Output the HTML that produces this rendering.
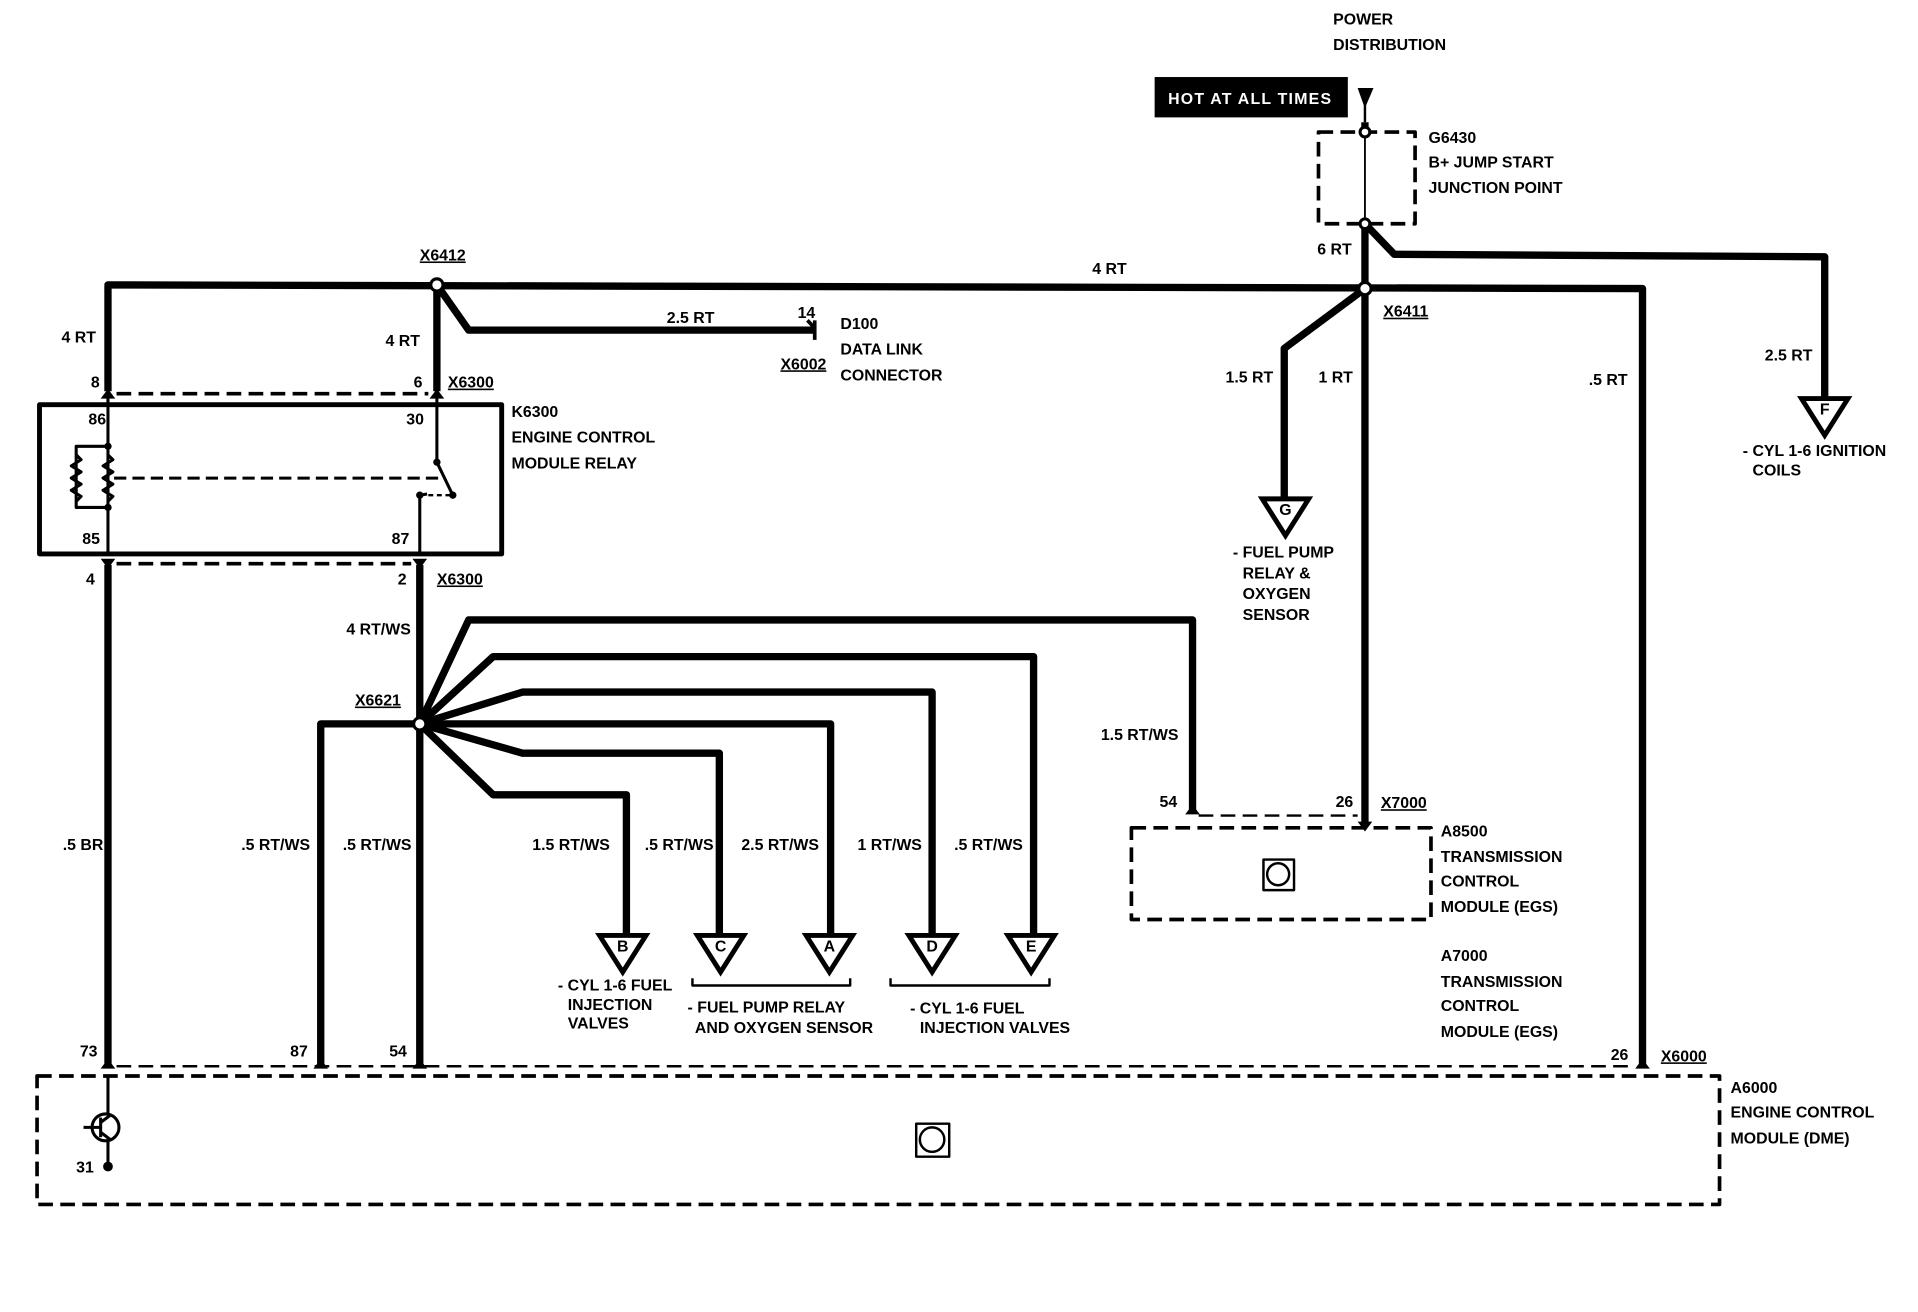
<!DOCTYPE html>
<html><head><meta charset="utf-8"><style>
html,body{margin:0;padding:0;background:#fff;}
svg{display:block;}
text{font-family:"Liberation Sans",sans-serif;font-size:13px;font-weight:bold;fill:#000;}
</style></head><body>
<svg width="1918" height="1312" viewBox="0 0 1568 1073" xmlns="http://www.w3.org/2000/svg">
<g fill="none" stroke="#000" stroke-linejoin="round">
<!-- thick wires -->
<g stroke-width="6">
<polyline points="88,320 88,233 1343,236 1343,872"/>
<polyline points="357,233 357,320"/>
<polyline points="357,233 383,270 666,270"/>
<polyline points="88,462 88,870"/>
<polyline points="343,462 343,870"/>
<polyline points="1116,100 1116,108"/>
<polyline points="1116,183 1116,676"/>
<polyline points="1116,183 1140,208 1492,210 1492,326"/>
<polyline points="1116,236 1050,285 1050,408"/>
<polyline points="343,592 383,507 975,507 975,662"/>
<polyline points="343,592 403,537 845,537 845,765"/>
<polyline points="343,592 427,566 762,566 762,765"/>
<polyline points="343,592 679,592 679,765"/>
<polyline points="343,592 427,616 588,616 588,765"/>
<polyline points="343,592 403,650 512,650 512,765"/>
<polyline points="343,592 262,592 262,870"/>
</g>
<!-- relay box -->
<rect x="32" y="331" width="378" height="122" stroke-width="4"/>
<g stroke-width="2.5">
<line x1="88" y1="322" x2="88" y2="453"/>
<polyline points="88,365 62,365 62,415 88,415"/>
<polyline points="88,372 92,376 84,381 92,386 84,391 92,396 84,401 92,406 88,410"/>
<polyline points="62,372 66,376 58,381 66,386 58,391 66,396 58,401 66,406 62,410"/>
<line x1="357" y1="322" x2="357" y2="378"/>
<polyline points="357,378 370,405"/>
<polyline points="343,453 343,405 349,404"/>
<line x1="88" y1="322" x2="88" y2="331"/>
</g>
<line x1="93" y1="391" x2="362" y2="391" stroke-width="2.5" stroke-dasharray="10,5"/>
<line x1="350" y1="405" x2="368" y2="405" stroke-width="2" stroke-dasharray="4,3"/>
<g stroke-width="3" stroke-dasharray="12,6">
<line x1="95" y1="322" x2="350" y2="322"/>
<line x1="95" y1="461" x2="336" y2="461"/>
<!-- junction box -->
<rect x="1078" y="108" width="79" height="75"/>
<!-- A8500 -->
<rect x="925" y="677" width="245" height="75"/>
<line x1="980" y1="667" x2="1110" y2="667" stroke-width="2"/>
<!-- A6000 -->
<rect x="30" y="880" width="1376" height="105"/>
<line x1="95" y1="872" x2="1336" y2="872" stroke-width="2"/>
</g>
<line x1="1116" y1="108" x2="1116" y2="183" stroke-width="1.5"/>
<!-- transistor -->
<g stroke-width="2.5">
<line x1="88" y1="880" x2="88" y2="912"/>
<circle cx="86" cy="922" r="11"/>
<line x1="68" y1="922" x2="82" y2="922"/>
<line x1="82" y1="914" x2="82" y2="930"/>
<line x1="82" y1="918" x2="90" y2="912"/>
<line x1="82" y1="926" x2="90" y2="932"/>
<line x1="88" y1="932" x2="88" y2="952"/>
</g>
<!-- brackets -->
<g stroke-width="2">
<polyline points="566,800 566,806 695,806 695,800"/>
<polyline points="728,800 728,806 858,806 858,800"/>
</g>
<!-- icons -->
<g stroke-width="2">
<rect x="1033" y="703" width="25" height="25"/><circle cx="1045" cy="715" r="9"/>
<rect x="749" y="919" width="27" height="27"/><circle cx="762" cy="932" r="10"/>
</g>
<!-- D100 fork -->
<path d="M666,262 v16 M660,262 q6,6 6,8" stroke-width="3"/>
</g>
<!-- connector circles -->
<g fill="#fff" stroke="#000" stroke-width="2.5">
<circle cx="357" cy="233" r="5"/><circle cx="1116" cy="236" r="5"/>
<circle cx="343" cy="592" r="5"/><circle cx="1116" cy="108" r="4"/><circle cx="1116" cy="183" r="4"/>
</g>
<g fill="#000">
<circle cx="88" cy="365" r="3"/><circle cx="88" cy="415" r="3"/><circle cx="357" cy="378" r="3"/>
<circle cx="370" cy="405" r="3"/><circle cx="343" cy="405" r="3"/><circle cx="88" cy="954" r="4"/>
<path d="M1110,72 h13 l-6,14 v14 h-2 v-14z"/>
<!-- pin forks -->
<path d="M82,326 l6,-8 l6,8z M351,326 l6,-8 l6,8z M82,457 l6,8 l6,-8z M337,457 l6,8 l6,-8z
M82,874 l6,-8 l6,8z M256,874 l6,-8 l6,8z M337,874 l6,-8 l6,8z M1337,874 l6,-8 l6,8z
M969,666 l6,-8 l6,8z M1110,672 l6,8 l6,-8z"/>
<rect x="944" y="63" width="158" height="33"/>
</g>
<!-- arrows -->
<g fill="#fff" stroke="#000" stroke-width="4">
<path d="M490,765 h38 l-19,30z"/><path d="M570,765 h38 l-19,30z"/><path d="M659,765 h38 l-19,30z"/>
<path d="M743,765 h38 l-19,30z"/><path d="M824,765 h38 l-19,30z"/>
<path d="M1032,408 h38 l-19,30z"/><path d="M1473,326 h38 l-19,30z"/>
</g>
<g font-size="12" text-anchor="middle">
<text x="509" y="778">B</text><text x="589" y="778">C</text><text x="678" y="778">A</text>
<text x="762" y="778">D</text><text x="843" y="778">E</text><text x="1051" y="421">G</text><text x="1492" y="339">F</text>
</g>
<text x="955" y="85" style="fill:#fff;letter-spacing:1px" font-size="14">HOT AT ALL TIMES</text>
<text x="1090" y="20">POWER</text><text x="1090" y="41">DISTRIBUTION</text>
<text x="1168" y="117">G6430</text><text x="1168" y="137">B+ JUMP START</text><text x="1168" y="158">JUNCTION POINT</text>
<text x="1077" y="208">6 RT</text>
<text x="893" y="224">4 RT</text>
<text x="1131" y="259" text-decoration="underline">X6411</text>
<text x="343" y="213" text-decoration="underline">X6412</text>
<text x="50" y="280">4 RT</text><text x="315" y="283">4 RT</text>
<text x="545" y="264">2.5 RT</text><text x="652" y="260">14</text>
<text x="638" y="302" text-decoration="underline">X6002</text>
<text x="687" y="269">D100</text><text x="687" y="290">DATA LINK</text><text x="687" y="311">CONNECTOR</text>
<text x="74" y="317">8</text><text x="338" y="317">6</text><text x="366" y="317" text-decoration="underline">X6300</text>
<text x="418" y="341">K6300</text><text x="418" y="362">ENGINE CONTROL</text><text x="418" y="383">MODULE RELAY</text>
<text x="72" y="347">86</text><text x="332" y="347">30</text><text x="67" y="445">85</text><text x="320" y="445">87</text>
<text x="70" y="478">4</text><text x="325" y="478">2</text><text x="357" y="478" text-decoration="underline">X6300</text>
<text x="283" y="519">4 RT/WS</text>
<text x="290" y="577" text-decoration="underline">X6621</text>
<text x="1002" y="313">1.5 RT</text><text x="1078" y="313">1 RT</text><text x="1299" y="315">.5 RT</text><text x="1443" y="295">2.5 RT</text>
<text x="1425" y="373" font-size="14">- CYL 1-6 IGNITION</text><text x="1433" y="389" font-size="14">COILS</text>
<text x="1008" y="456" font-size="14">- FUEL PUMP</text><text x="1016" y="473" font-size="14">RELAY &amp;</text>
<text x="1016" y="490" font-size="14">OXYGEN</text><text x="1016" y="507" font-size="14">SENSOR</text>
<text x="900" y="605">1.5 RT/WS</text>
<text x="948" y="660">54</text><text x="1092" y="660">26</text><text x="1129" y="661" text-decoration="underline">X7000</text>
<text x="1178" y="684">A8500</text><text x="1178" y="705">TRANSMISSION</text><text x="1178" y="725">CONTROL</text><text x="1178" y="746">MODULE (EGS)</text>
<text x="1178" y="786">A7000</text><text x="1178" y="807">TRANSMISSION</text><text x="1178" y="827">CONTROL</text><text x="1178" y="848">MODULE (EGS)</text>
<text x="51" y="695">.5 BR</text><text x="197" y="695">.5 RT/WS</text><text x="280" y="695">.5 RT/WS</text>
<text x="435" y="695">1.5 RT/WS</text><text x="527" y="695">.5 RT/WS</text><text x="606" y="695">2.5 RT/WS</text>
<text x="701" y="695">1 RT/WS</text><text x="780" y="695">.5 RT/WS</text>
<text x="456" y="810" font-size="14">- CYL 1-6 FUEL</text><text x="464" y="826" font-size="14">INJECTION</text><text x="464" y="841" font-size="14">VALVES</text>
<text x="562" y="828" font-size="14">- FUEL PUMP RELAY</text><text x="568" y="845" font-size="14">AND OXYGEN SENSOR</text>
<text x="744" y="829" font-size="14">- CYL 1-6 FUEL</text><text x="752" y="845" font-size="14">INJECTION VALVES</text>
<text x="65" y="864">73</text><text x="237" y="864">87</text><text x="318" y="864">54</text>
<text x="1317" y="867">26</text><text x="1358" y="868" text-decoration="underline">X6000</text>
<text x="62" y="959">31</text>
<text x="1415" y="894">A6000</text><text x="1415" y="914">ENGINE CONTROL</text><text x="1415" y="935">MODULE (DME)</text>
</svg>
</body></html>
